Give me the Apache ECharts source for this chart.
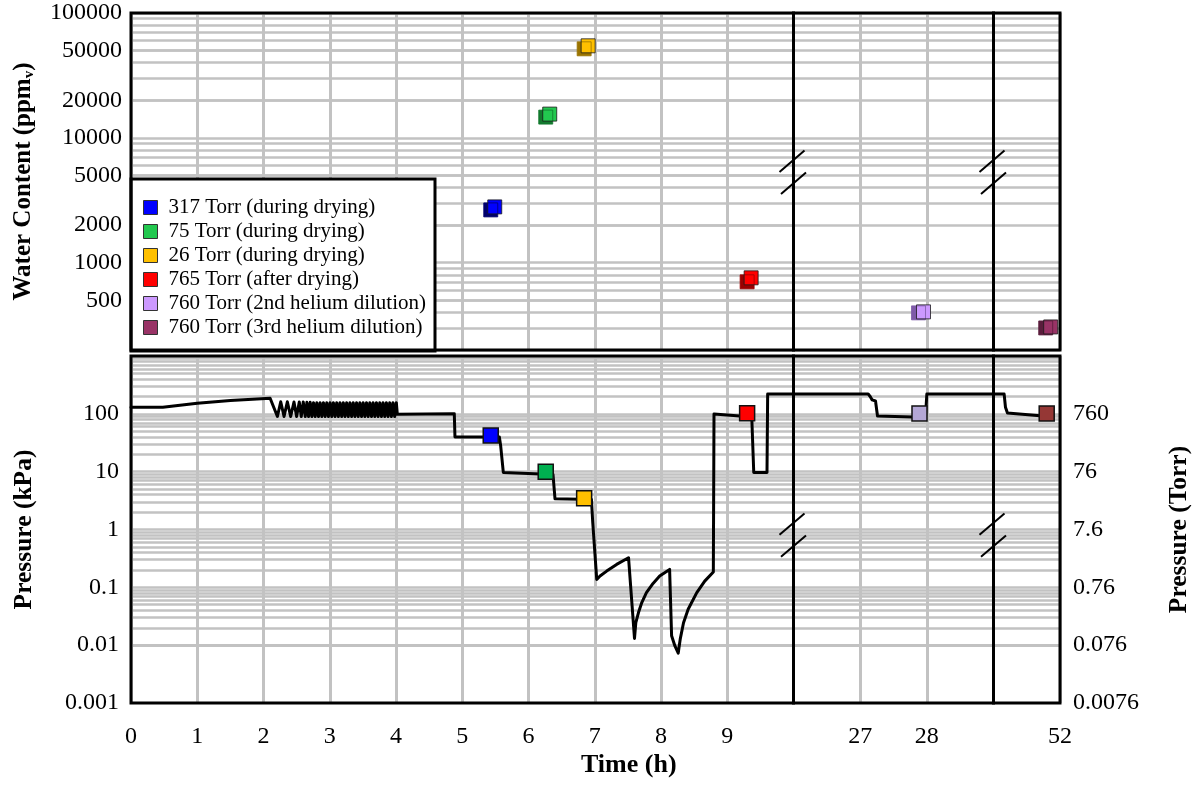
<!DOCTYPE html>
<html>
<head>
<meta charset="utf-8">
<script src="https://cdn.jsdelivr.net/npm/echarts@6/dist/echarts.min.js"></script>
<style>
  html, body { margin: 0; padding: 0; background: #fff; }
  #chart { width: 1195px; height: 786px; }
</style>
</head>
<body>
<div id="chart"></div>
<script>
// ---- Samples taken during the drying run ----
const sampleNames = [
  '317 Torr (during drying)',
  '75 Torr (during drying)',
  '26 Torr (during drying)',
  '765 Torr (after drying)',
  '760 Torr (2nd helium dilution)',
  '760 Torr (3rd helium dilution)'
];
const sampleTimesH = [5.43, 6.26, 6.84, 9.30, 27.89, 51.80];
const waterContentPpmv = [2800, 15500, 54600, 757, 404, 306];
const samplePressureTorr = [317, 75, 26, 765, 760, 760];

// ---- Cell pressure trace [time (h), pressure (kPa)], one array per time window ----
const pressureSegA = [
  [0, 130], [0.48, 130], [1.0, 152], [1.5, 170], [2.1, 186],
  [2.13, 178], [2.21, 90], [2.26, 162], [2.31, 90], [2.36, 162], [2.41, 90], [2.46, 160],
  [2.50, 90], [2.54, 160], [2.57, 90], [2.60, 160], [2.63, 90], [2.655, 158], [2.68, 90],
  [2.705, 158], [2.73, 90], [2.755, 156], [2.78, 90], [2.805, 156], [2.83, 90], [2.855, 156],
  [2.88, 90], [2.905, 156], [2.93, 90], [2.955, 156], [2.98, 90], [3.005, 156], [3.03, 90],
  [3.055, 156], [3.08, 90], [3.105, 156], [3.13, 90], [3.155, 156], [3.18, 90], [3.205, 156],
  [3.23, 90], [3.255, 156], [3.28, 90], [3.305, 156], [3.33, 90], [3.355, 156], [3.38, 90],
  [3.405, 156], [3.43, 90], [3.455, 156], [3.48, 90], [3.505, 156], [3.53, 90], [3.555, 156],
  [3.58, 90], [3.605, 156], [3.63, 90], [3.655, 156], [3.68, 90], [3.705, 156], [3.73, 90],
  [3.755, 156], [3.78, 90], [3.805, 156], [3.83, 90], [3.855, 156], [3.88, 90], [3.905, 156],
  [3.93, 90], [3.955, 156], [3.98, 90], [4.005, 156], [4.02, 98],
  [4.88, 100], [4.89, 39.7], [5.56, 39.7], [5.58, 28], [5.62, 9.7], [6.37, 8.9], [6.40, 3.4],
  [6.95, 3.3], [6.97, 1.31], [6.98, 1.22], [7.03, 0.137],
  [7.08, 0.157], [7.18, 0.191], [7.33, 0.249], [7.51, 0.325], [7.60, 0.0131],
  [7.62, 0.0246], [7.66, 0.0366], [7.71, 0.0545], [7.78, 0.081], [7.88, 0.117], [7.98, 0.157], [8.13, 0.204],
  [8.16, 0.0145], [8.21, 0.0097], [8.26, 0.0073],
  [8.29, 0.0127], [8.34, 0.0244], [8.41, 0.0418], [8.54, 0.081], [8.66, 0.128], [8.79, 0.184],
  [8.80, 99], [9.19, 92], [9.37, 88], [9.40, 9.7], [9.60, 9.7], [9.61, 220], [10, 220]
];
const pressureSegB = [
  [26, 220], [27.12, 220], [27.15, 200], [27.18, 174], [27.23, 167], [27.26, 92],
  [27.78, 88], [27.98, 88], [28.0, 220], [29, 220]
];
const pressureSegC = [
  [51, 220], [51.16, 220], [51.18, 130], [51.21, 103], [51.70, 93], [51.80, 92]
];

// ---- Axes: broken time axis windows and tick labels ----
const timeWindows = [[0, 10], [26, 29], [51, 52]];
const timeTickLabels = [[0, 1, 2, 3, 4, 5, 6, 7, 8, 9], [27, 28], [52]];
const waterTickLabels = [500, 1000, 2000, 5000, 10000, 20000, 50000, 100000];
const kPaTickLabels = [0.001, 0.01, 0.1, 1, 10, 100];
const torrTickLabels = ['0.0076', '0.076', '0.76', '7.6', '76', '760'];

// ---- Styling ----
const FONT = 'Liberation Serif';
const GRID_GRAY = '#c2c2c2';
const KPA_PER_TORR = 0.133322;
const upperColors = ['#0000ff', '#22c84f', '#ffc000', '#ff0000', '#cc99ff', '#993366'];
const upperBackColors = ['#00006e', '#137a2e', '#9a7400', '#9a0000', '#7e5aa8', '#5a1d3c'];
const upperShadowOffset = [[-4, 3], [-4, 3], [-4, 3], [-4, 4], [-5, 1], [-5, 1]];
const lowerColors = ['#0000ff', '#00b050', '#ffc000', '#ff0000', '#b4a7d6', '#953735'];

const segLeft = [131, 793.5, 993.5];
const segWidth = [662.5, 200, 66.5];
const panelTop = [13, 356];
const panelHeight = [337, 347];

function windowOf(t) {
  return timeWindows.findIndex(w => t >= w[0] && t <= w[1]);
}
function sameNum(a, b) { return Math.abs(a - b) <= Math.abs(b) * 1e-6; }

// horizontal grid values: every 1..9 x 10^k inside an axis range
function decadeGridValues(lo, hi) {
  const out = [];
  for (let k = Math.floor(Math.log10(lo)); k <= Math.ceil(Math.log10(hi)); k++) {
    for (let m = 1; m <= 9; m++) {
      const v = Number((m * Math.pow(10, k)).toPrecision(3));
      if (v >= lo && v <= hi) out.push(v);
    }
  }
  return out;
}
const upperRange = [200, 100000];
const lowerRange = [0.001, 1000];

const grids = [], xAxes = [], yAxes = [], series = [];
for (let p = 0; p < 2; p++) {
  for (let s = 0; s < 3; s++) {
    const g = p * 3 + s;
    grids.push({
      left: segLeft[s], width: segWidth[s], top: panelTop[p], height: panelHeight[p],
      show: true, backgroundColor: 'rgba(0,0,0,0)', borderColor: '#000', borderWidth: 3,
      z: 10, containLabel: false, outerBoundsMode: 'none'
    });
    xAxes.push({
      type: 'value', gridIndex: g, min: timeWindows[s][0], max: timeWindows[s][1], interval: 1,
      axisLine: { show: false }, axisTick: { show: false },
      splitLine: { show: true, lineStyle: { color: GRID_GRAY, width: 3 } },
      axisLabel: {
        show: p === 1, margin: 22, color: '#000', fontFamily: FONT, fontSize: 24,
        formatter: v => (timeTickLabels[s].some(t => sameNum(v, t)) ? String(v) : '')
      }
    });
    const range = p === 0 ? upperRange : lowerRange;
    const labels = p === 0 ? waterTickLabels : kPaTickLabels;
    const yAx = {
      type: 'log', logBase: 10, gridIndex: g, min: range[0], max: range[1],
      axisLine: { show: false }, axisTick: { show: false }, splitLine: { show: false },
      axisLabel: {
        show: s === 0, margin: p === 0 ? 9 : 12, color: '#000', fontFamily: FONT, fontSize: 24,
        formatter: v => (labels.some(t => sameNum(v, t)) ? String(Number(Number(v).toPrecision(6))) : '')
      }
    };
    if (s === 0) {
      yAx.nameLocation = 'middle';
      yAx.nameRotate = 90;
      yAx.nameGap = 94;
      if (p === 0) {
        yAx.name = '{a|Water Content (ppm}{b|v}{a|)}';
        yAx.nameTextStyle = {
          color: '#000',
          rich: {
            a: { fontFamily: FONT, fontSize: 25, fontWeight: 'bold', color: '#000', lineHeight: 27 },
            b: { fontFamily: FONT, fontSize: 15, fontWeight: 'bold', color: '#000', lineHeight: 15, verticalAlign: 'bottom' }
          }
        };
      } else {
        yAx.name = 'Pressure (kPa)';
        yAx.nameTextStyle = { color: '#000', fontFamily: FONT, fontSize: 25.5, fontWeight: 'bold' };
      }
    }
    yAxes.push(yAx);

    // horizontal grid lines (major and minor decades), kept beneath the data
    series.push({
      type: 'line', xAxisIndex: g, yAxisIndex: g, data: [], silent: true, z: 1,
      markLine: {
        z: 1, silent: true, animation: false, symbol: ['none', 'none'],
        label: { show: false }, emphasis: { disabled: true },
        lineStyle: { color: GRID_GRAY, width: 2.5, type: 'solid' },
        data: decadeGridValues(range[0], range[1]).map(v => ({ yAxis: v }))
      }
    });
  }
}

// 1-2-5 labels of the water content axis that are not decades
series.push({
  type: 'line', xAxisIndex: 0, yAxisIndex: 0, data: [], silent: true, z: 1,
  markLine: {
    z: 1, silent: true, animation: false, symbol: ['none', 'none'], emphasis: { disabled: true },
    lineStyle: { color: GRID_GRAY, width: 2.5, type: 'solid' },
    label: {
      show: true, position: 'start', distance: 9, color: '#000', fontFamily: FONT, fontSize: 24,
      formatter: p => String(p.value)
    },
    data: waterTickLabels.filter(v => !Number.isInteger(Math.log10(v))).map(v => ({ yAxis: v }))
  }
});

// right-hand pressure axis in Torr, aligned with the kPa decades
yAxes.push({
  type: 'value', gridIndex: 5, position: 'right', min: 0, max: 6, interval: 1,
  axisLine: { show: false }, axisTick: { show: false }, splitLine: { show: false },
  axisLabel: {
    margin: 13, color: '#000', fontFamily: FONT, fontSize: 24,
    formatter: v => (torrTickLabels[v] !== undefined ? torrTickLabels[v] : '')
  },
  name: 'Pressure (Torr)', nameLocation: 'middle', nameRotate: 90, nameGap: 106,
  nameTextStyle: { color: '#000', fontFamily: FONT, fontSize: 25.5, fontWeight: 'bold' }
});

// pressure trace
[pressureSegA, pressureSegB, pressureSegC].forEach((seg, s) => {
  series.push({
    type: 'line', name: 'Pressure', xAxisIndex: 3 + s, yAxisIndex: 3 + s, data: seg,
    symbol: 'none', showSymbol: false, silent: true, z: 6, clip: true,
    lineStyle: { color: '#000', width: 3, join: 'round', cap: 'round' }
  });
});

// water content samples (upper panel)
sampleNames.forEach((name, i) => {
  const w = windowOf(sampleTimesH[i]);
  series.push({
    type: 'scatter', name, xAxisIndex: w, yAxisIndex: w, silent: true, z: 7,
    data: [[sampleTimesH[i], waterContentPpmv[i]]],
    symbol: 'rect', symbolSize: 14, symbolOffset: [4, 0],
    itemStyle: {
      color: upperColors[i], borderColor: '#1a1a1a', borderWidth: 0.8, opacity: 1,
      shadowColor: upperBackColors[i], shadowBlur: 0,
      shadowOffsetX: upperShadowOffset[i][0], shadowOffsetY: upperShadowOffset[i][1]
    }
  });
});

// pressure at each sample (lower panel)
sampleNames.forEach((name, i) => {
  const w = windowOf(sampleTimesH[i]);
  series.push({
    type: 'scatter', name, xAxisIndex: 3 + w, yAxisIndex: 3 + w, silent: true, z: 8,
    data: [[sampleTimesH[i], samplePressureTorr[i] * KPA_PER_TORR]],
    symbol: 'rect', symbolSize: 15,
    itemStyle: { color: lowerColors[i], borderColor: '#111', borderWidth: 1.5, opacity: 1 }
  });
});

const option = {
  animation: false,
  backgroundColor: '#fff',
  textStyle: { fontFamily: FONT },
  title: {
    text: 'Time (h)', left: 581, top: 752, padding: 0,
    textStyle: { fontFamily: FONT, fontSize: 26, fontWeight: 'bold', color: '#000' }
  },
  legend: {
    data: sampleNames, orient: 'vertical', left: 131, top: 179,
    itemWidth: 14, itemHeight: 14, itemGap: 3,
    padding: [18, 9, 13, 12],
    backgroundColor: '#fff', borderColor: '#000', borderWidth: 3, borderRadius: 0,
    selectedMode: false, z: 9,
    textStyle: { fontFamily: FONT, fontSize: 21, color: '#000', lineHeight: 20, padding: [0, 0, 0, 6] },
    itemStyle: {
      borderColor: '#333', borderWidth: 1,
      shadowBlur: 0, shadowOffsetX: 0, shadowOffsetY: 0, shadowColor: 'rgba(0,0,0,0)'
    }
  },
  grid: grids,
  xAxis: xAxes,
  yAxis: yAxes,
  series
};

const chart = echarts.init(document.getElementById('chart'), null, { renderer: 'canvas' });
chart.setOption(option);

// axis-break marks on the window boundaries
const breakMarks = [];
[[1, 26], [2, 51]].forEach(([xi, t]) => {
  const bx = chart.convertToPixel({ xAxisIndex: xi }, t);
  [[0, 5300], [3, 0.8]].forEach(([yi, v]) => {
    const yc = chart.convertToPixel({ yAxisIndex: yi }, v);
    [[-1.5, -11], [0, 11]].forEach(([dx, dy]) => {
      const cx = bx + dx, cy = yc + dy;
      breakMarks.push({
        type: 'line', silent: true, z: 20,
        shape: { x1: cx - 12.5, y1: cy + 10.7, x2: cx + 12.5, y2: cy - 10.7 },
        style: { stroke: '#000', lineWidth: 2 }
      });
    });
  });
});
chart.setOption({ graphic: breakMarks });
</script>
</body>
</html>
